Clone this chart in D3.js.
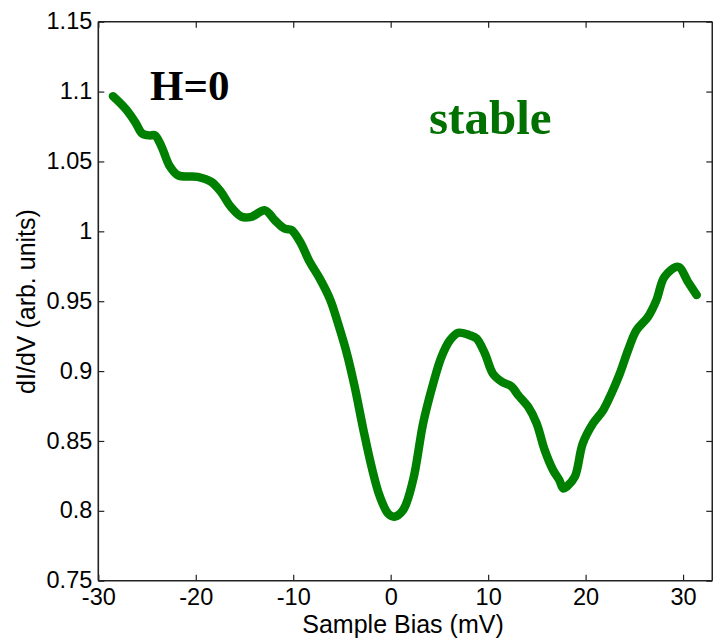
<!DOCTYPE html>
<html>
<head>
<meta charset="utf-8">
<script src="https://cdn.jsdelivr.net/npm/d3@7"></script>
<style>
  html, body { margin: 0; padding: 0; background: #fff; }
  svg { display: block; }
</style>
</head>
<body>
<svg id="chart" width="713" height="638"></svg>
<script>
// ---- data ----
const bias = [-28.5, -27.25, -26.2, -25.5, -24.7, -24.2, -23.5, -22.7, -21.8, -19.8, -18.4, -17.4, -16.4, -15.3, -14.3, -12.9, -11.9, -10.9, -10.2, -9.3, -8.3, -7.26, -6.2, -5.4, -4.5, -3.7, -2.8, -1.96, -1.1, -0.26, 0.36, 1.28, 2.3, 3.33, 4.36, 5.2, 6.07, 6.92, 8.1, 8.8, 9.66, 10.5, 11.4, 12.4, 13.08, 14.1, 14.97, 15.8, 16.67, 17.3, 17.7, 18.1, 18.9, 19.7, 20.77, 21.8, 22.65, 23.5, 24.36, 25.2, 26.4, 27.27, 28.1, 29.5, 30.5, 31.4];
const dIdV = [1.0967, 1.088, 1.078, 1.070, 1.0686, 1.0688, 1.0605, 1.047, 1.040, 1.039, 1.0354, 1.028, 1.0175, 1.0104, 1.0104, 1.015, 1.008, 1.002, 1.001, 0.9925, 0.978, 0.966, 0.951, 0.934, 0.9127, 0.889, 0.858, 0.8315, 0.810, 0.798, 0.7958, 0.8006, 0.822, 0.8626, 0.891, 0.910, 0.922, 0.9274, 0.9257, 0.9234, 0.9127, 0.898, 0.8924, 0.889, 0.8828, 0.8745, 0.8626, 0.8435, 0.829, 0.822, 0.816, 0.8175, 0.8244, 0.848, 0.8626, 0.872, 0.884, 0.898, 0.915, 0.929, 0.9388, 0.9508, 0.9675, 0.9746, 0.9639, 0.9544];
const xTicks = [-30, -20, -10, 0, 10, 20, 30];
const xTickLabels = ["-30", "-20", "-10", "0", "10", "20", "30"];
const yTicks = [0.75, 0.8, 0.85, 0.9, 0.95, 1, 1.05, 1.1, 1.15];
const yTickLabels = ["0.75", "0.8", "0.85", "0.9", "0.95", "1", "1.05", "1.1", "1.15"];
const xDomain = [-30, 33];
const yDomain = [0.75, 1.15];
const xLabel = "Sample Bias (mV)";
const yLabel = "dI/dV (arb. units)";
const fieldLabel = "H=0";
const stateLabel = "stable";

// ---- layout ----
const svg = d3.select("#chart");
const m = { left: 98.3, top: 21.7, right: 712.3, bottom: 580.7 };
const x = d3.scaleLinear().domain(xDomain).range([m.left, m.right]);
const y = d3.scaleLinear().domain(yDomain).range([m.bottom, m.top]);
const font = "Liberation Sans, Arial, sans-serif";
const axisColor = "#222";
const tickLen = 6;

const gB = svg.append("g").attr("transform", `translate(0,${m.bottom})`)
  .call(d3.axisBottom(x).tickValues(xTicks).tickSize(-tickLen).tickPadding(8)
    .tickFormat((d, i) => xTickLabels[i]));
const gT = svg.append("g").attr("transform", `translate(0,${m.top})`)
  .call(d3.axisTop(x).tickValues(xTicks).tickSize(-tickLen).tickFormat(""));
const gL = svg.append("g").attr("transform", `translate(${m.left},0)`)
  .call(d3.axisLeft(y).tickValues(yTicks).tickSize(-tickLen).tickPadding(6)
    .tickFormat((d, i) => yTickLabels[i]));
const gR = svg.append("g").attr("transform", `translate(${m.right},0)`)
  .call(d3.axisRight(y).tickValues(yTicks).tickSize(-tickLen).tickFormat(""));

[gB, gT, gL, gR].forEach(g => {
  g.select(".domain").attr("stroke", axisColor).attr("stroke-width", 1.6);
  g.selectAll(".tick line").attr("stroke", axisColor).attr("stroke-width", 1.2);
  g.selectAll("text").attr("fill", "#000").style("font-family", font).style("font-size", "23.5px");
});
gL.selectAll("text").attr("dy", "0.3em");
gB.select(".domain").attr("d", `M${m.left},0H${m.right}`);
gT.select(".domain").attr("d", `M${m.left},0H${m.right}`);
gL.select(".domain").attr("d", `M0,${m.bottom}V${m.top}`);
gR.select(".domain").attr("d", `M0,${m.bottom}V${m.top}`);

// axis labels
svg.append("text")
  .attr("x", 403).attr("y", 632.5)
  .attr("text-anchor", "middle")
  .style("font-family", font).style("font-size", "25px")
  .text(xLabel);
svg.append("text")
  .attr("transform", `translate(35,301.5) rotate(-90)`)
  .attr("text-anchor", "middle")
  .style("font-family", font).style("font-size", "25px")
  .text(yLabel);

// curve
const pts = bias.map((b, i) => [b, dIdV[i]]);
svg.append("path")
  .datum(pts)
  .attr("fill", "none")
  .attr("stroke", "#008000")
  .attr("stroke-width", 8.5)
  .attr("stroke-linejoin", "round")
  .attr("stroke-linecap", "round")
  .attr("d", d3.line().x(d => x(d[0])).y(d => y(d[1])).curve(d3.curveCatmullRom.alpha(0.5)));

// annotations
svg.append("text")
  .attr("x", 150).attr("y", 99.5)
  .style("font-family", "Liberation Serif, 'Times New Roman', serif")
  .style("font-weight", "bold").style("font-size", "43px")
  .attr("fill", "#000")
  .text(fieldLabel);
svg.append("text")
  .attr("x", 429).attr("y", 133.5)
  .style("font-family", "Liberation Serif, 'Times New Roman', serif")
  .style("font-weight", "bold").style("font-size", "49px")
  .attr("fill", "#007000")
  .text(stateLabel);
</script>
</body>
</html>
